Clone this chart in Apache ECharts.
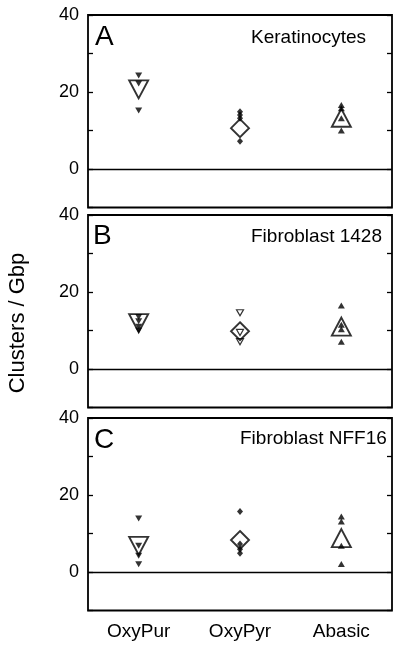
<!DOCTYPE html>
<html>
<head>
<meta charset="utf-8">
<script src="https://cdn.jsdelivr.net/npm/echarts@6/dist/echarts.min.js"></script>
<style>
html,body{margin:0;padding:0;background:#fff;}
#chart{width:404px;height:646px;}
</style>
</head>
<body>
<div id="chart"></div>
<script>
const categories = ['OxyPur', 'OxyPyr', 'Abasic'];
const panelLetters = ['A', 'B', 'C'];
const panelTitles = ['Keratinocytes', 'Fibroblast 1428', 'Fibroblast NFF16'];
const yTickLabels = [0, 20, 40];
const yAxisTitle = 'Clusters / Gbp';

// Keratinocytes (A)
const kerOxyPur = [24.3, 22.2, 15.2];
const kerOxyPyr = [14.9, 14.0, 13.2, 7.2];
const kerAbasic = [16.6, 15.8, 13.2, 10.0];
const kerMeans = [20.7, 10.6, 13.3];
// Fibroblast 1428 (B)
const f1428OxyPur = [13.5, 12.4, 11.0, 10.0];
const f1428OxyPyr = [14.6, 9.5, 7.1];
const f1428Abasic = [16.5, 11.5, 10.3, 7.1];
const f1428Means = [11.9, 9.8, 11.0];
// Fibroblast NFF16 (C)
const nff16OxyPur = [13.9, 6.8, 4.2, 2.0];
const nff16OxyPyr = [15.7, 7.3, 5.9, 4.9];
const nff16Abasic = [14.4, 13.1, 6.8, 2.1];
const nff16Means = [6.8, 8.3, 8.8];

const panelPoints = [
  [kerOxyPur, kerOxyPyr, kerAbasic],
  [f1428OxyPur, f1428OxyPyr, f1428Abasic],
  [nff16OxyPur, nff16OxyPyr, nff16Abasic]
];
const panelMeans = [kerMeans, f1428Means, nff16Means];

const FONT = '"Liberation Sans", Arial, Helvetica, sans-serif';
const gridLeft = 88, gridWidth = 304, gridHeight = 192.5;
const gridTops = [15, 215, 418];
const letterPos = [[95, 37], [93, 236], [94, 440]];
const titlePos = [[251, 38], [251, 237], [240, 439]];

const grids = [], xAxes = [], yAxes = [], series = [], graphics = [];

gridTops.forEach((top, p) => {
  grids.push({
    left: gridLeft, top: top, width: gridWidth, height: gridHeight,
    show: true, borderColor: '#000', borderWidth: 1.8, backgroundColor: 'transparent'
  });
  xAxes.push({
    type: 'category', gridIndex: p, data: categories, boundaryGap: true,
    axisLine: { show: false }, axisTick: { show: false }, splitLine: { show: false },
    axisLabel: { show: p === 2, color: '#000', fontSize: 19, fontFamily: FONT, margin: 12 }
  });
  const yBase = {
    type: 'value', gridIndex: p, min: -10, max: 40, interval: 10,
    axisLine: { show: false }, splitLine: { show: false },
    axisTick: { show: true, inside: true, length: 5, lineStyle: { color: '#000', width: 1.3 } }
  };
  yAxes.push(Object.assign({}, yBase, {
    position: 'left',
    axisLabel: {
      show: true, color: '#000', fontSize: 18, fontFamily: FONT, margin: 9,
      formatter: v => yTickLabels.includes(v) ? String(v) : ''
    }
  }));
  yAxes.push(Object.assign({}, yBase, { position: 'right', axisLabel: { show: false } }));

  // zero line
  series.push({
    type: 'scatter', xAxisIndex: p, yAxisIndex: p * 2, data: [], silent: true,
    markLine: {
      silent: true, symbol: ['none', 'none'], label: { show: false },
      lineStyle: { color: '#000', width: 1.3, type: 'solid' },
      data: [{ yAxis: 0 }], animation: false
    }
  });

  categories.forEach((cat, c) => {
    const vals = panelPoints[p][c];
    let sym, size, rot = 0, style;
    if (c === 0) { sym = 'triangle'; size = [7, 6]; rot = 180; style = { color: '#000' }; }
    else if (c === 1) {
      if (p === 1) { sym = 'triangle'; size = [7, 6]; rot = 180; style = { color: '#fff', borderColor: '#000', borderWidth: 1.2 }; }
      else { sym = 'diamond'; size = [6, 7]; style = { color: '#000' }; }
    } else { sym = 'triangle'; size = [7, 6]; style = { color: '#000' }; }
    series.push({
      type: 'scatter', xAxisIndex: p, yAxisIndex: p * 2, silent: true,
      symbol: sym, symbolSize: size, symbolRotate: rot, itemStyle: style,
      data: vals.map(v => [c, v]), z: 3
    });
    const meanSym = c === 1 ? 'diamond' : 'triangle';
    series.push({
      type: 'scatter', xAxisIndex: p, yAxisIndex: p * 2, silent: true,
      symbol: meanSym, symbolSize: c === 1 ? [18, 18] : [19, 18], symbolRotate: c === 0 ? 180 : 0,
      itemStyle: { color: 'rgba(0,0,0,0)', borderColor: '#000', borderWidth: 1.9 },
      data: [[c, panelMeans[p][c]]], z: 4
    });
  });

  graphics.push({
    type: 'text', left: letterPos[p][0], top: letterPos[p][1] - 14,
    style: { text: panelLetters[p], font: '28px ' + FONT, fill: '#000' }
  });
  graphics.push({
    type: 'text', left: titlePos[p][0], top: titlePos[p][1] - 10,
    style: { text: panelTitles[p], font: '19px ' + FONT, fill: '#000' }
  });
});

graphics.push({
  type: 'text', x: 18, y: 323, rotation: Math.PI / 2,
  style: { text: yAxisTitle, font: '22px ' + FONT, fill: '#000', textAlign: 'center', textVerticalAlign: 'middle' }
});

const chart = echarts.init(document.getElementById('chart'), null, { renderer: 'canvas' });
chart.setOption({
  animation: false,
  backgroundColor: '#fff',
  grid: grids, xAxis: xAxes, yAxis: yAxes, series: series, graphic: graphics
});
</script>
</body>
</html>
